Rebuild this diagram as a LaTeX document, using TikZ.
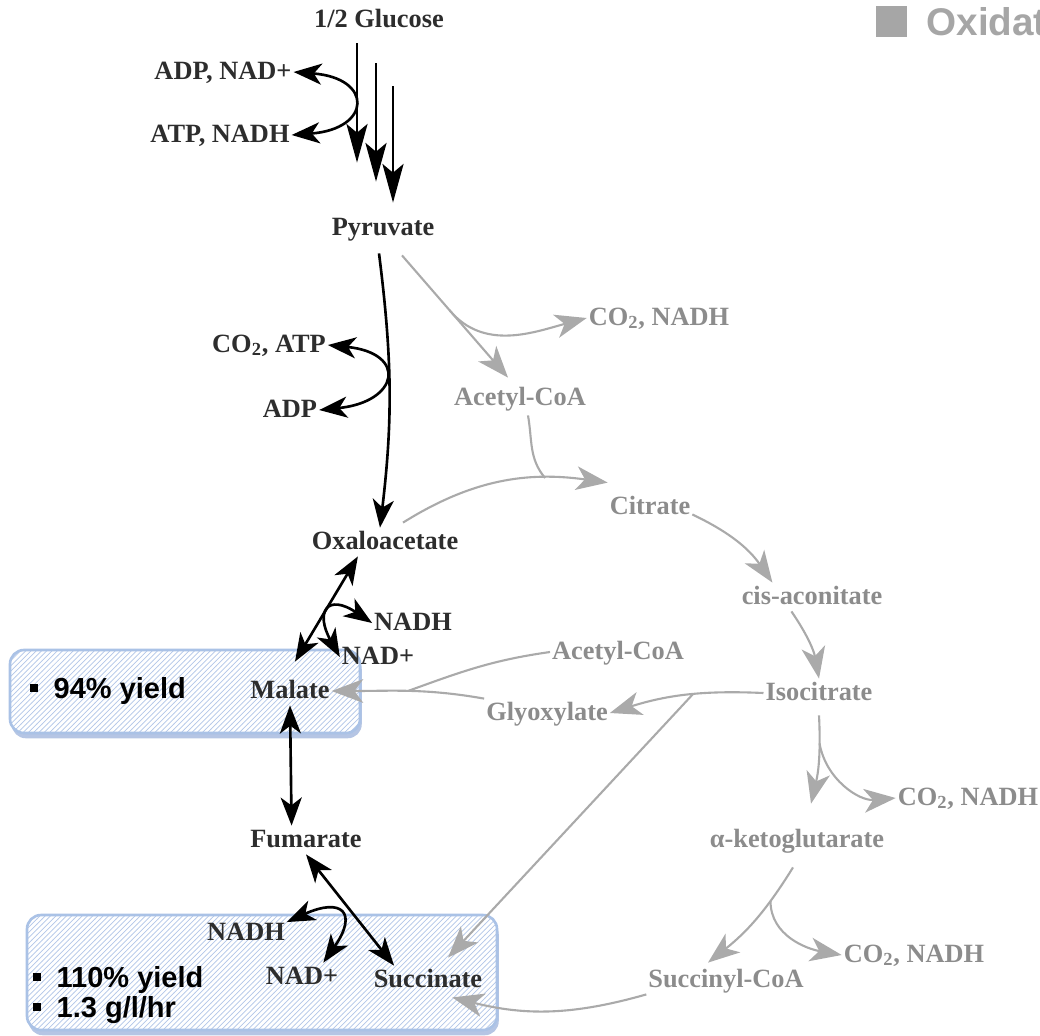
\documentclass[tikz,border=0pt]{standalone}
\usepackage{fontspec}
\setmainfont{Liberation Serif}
\newfontfamily\boxfont{Liberation Sans}
\usepackage{tikz}
\usetikzlibrary{arrows.meta, calc, patterns, shadows}
\definecolor{txtdark}{RGB}{45,45,45}
\definecolor{txtgray}{RGB}{140,140,140}
\definecolor{pathgray}{RGB}{170,170,170}
\definecolor{headgray}{RGB}{166,166,166}
\definecolor{boxline}{RGB}{170,194,230}
\definecolor{boxhatch}{RGB}{178,198,232}
\definecolor{boxshadow}{RGB}{120,150,205}

\begin{document}
\begin{tikzpicture}[x=0.02cm, y=-0.02cm,
    lbl/.style={font=\bfseries\fontsize{15}{17}\selectfont, text=txtdark, text height=11pt, text depth=3pt, inner sep=1pt},
    glbl/.style={lbl, text=txtgray},
    blk/.style={draw=black, line width=1.5pt, >={Stealth[length=16pt, width=12pt, inset=4.5pt]}, ->},
    glyc/.style={>={Stealth[length=22pt, width=12pt, inset=5pt]}},
    gry/.style={draw=pathgray, line width=1.2pt, >={Stealth[length=18pt, width=13.5pt, inset=5pt]}, ->},
    yieldbox/.style={rounded corners=8pt, drop shadow={shadow xshift=1pt, shadow yshift=-3pt, fill=boxshadow, opacity=0.55}, preaction={fill=white}, pattern=north east lines, pattern color=boxhatch, draw=boxline, line width=1.5pt},
    yieldtxt/.style={font=\boxfont\bfseries\fontsize{16.5}{18}\selectfont, anchor=base west, inner sep=0pt}]
        \useasboundingbox (0,0) rectangle (1040,1035);

        \draw[yieldbox] (10,650) rectangle (360,733);
        \draw[yieldbox] (27,915) rectangle (497,1030);
        \node[yieldtxt] (yieldmal) at (30,698) {\rule[3.4pt]{4.3pt}{4.3pt}\hspace{9pt}94\% yield};
        \node[yieldtxt] (yieldsuc) at (33,987) {\rule[3.4pt]{4.3pt}{4.3pt}\hspace{9pt}110\% yield};
        \node[yieldtxt] (ratesuc) at (33,1017) {\rule[3.4pt]{4.3pt}{4.3pt}\hspace{9pt}1.3 g/l/hr};
        \node[anchor=west, inner sep=0pt, text=headgray, font=\boxfont\bfseries\fontsize{22}{24}\selectfont] (heading) at (876,21.5) {\rule[-0.9pt]{17.5pt}{17.5pt}\hspace{11pt}Oxidat};

        \node[lbl] (glucose) at (379,20) {1/2 Glucose};
        \node[lbl] (adpnad) at (223,72) {ADP, NAD+};
        \node[lbl] (atpnadh) at (220,135) {ATP, NADH};
        \node[lbl] (pyruvate) at (383,228) {Pyruvate};
        \node[lbl] (co2atp) at (269,345) {CO\textsubscript{2}, ATP};
        \node[lbl] (adp) at (290,410) {ADP};
        \node[glbl] (co2a) at (659,318) {CO\textsubscript{2}, NADH};
        \node[glbl] (acoa) at (520,398) {Acetyl-CoA};
        \node[glbl] (citrate) at (650,507) {Citrate};
        \node[lbl] (oaa) at (385,542) {Oxaloacetate};
        \node[glbl] (cis) at (812,597) {cis-aconitate};
        \node[lbl] (nadh) at (413,623) {NADH};
        \node[lbl] (nadp) at (378,657) {NAD+};
        \node[glbl] (acoab) at (618,652) {Acetyl-CoA};
        \node[lbl] (malate) at (290,691) {Malate};
        \node[glbl] (iso) at (819,693) {Isocitrate};
        \node[glbl] (glyox) at (547,713) {Glyoxylate};
        \node[glbl] (co2b) at (968,798) {CO\textsubscript{2}, NADH};
        \node[lbl] (fumarate) at (306,840) {Fumarate};
        \node[glbl] (akg) at (797,840) {α-ketoglutarate};
        \node[lbl] (nadhb) at (246,933) {NADH};
        \node[glbl] (co2c) at (914,955) {CO\textsubscript{2}, NADH};
        \node[lbl] (nadpb) at (302,977) {NAD+};
        \node[lbl] (succinate) at (428,980) {Succinate};
        \node[glbl] (succoa) at (726,980) {Succinyl-CoA};

        \draw[blk, glyc] ($(glucose.south)+(-22,9)$) -- ($(pyruvate.north)+(-26,-51)$);
        \draw[blk, glyc] ($(glucose.south)+(-3,29)$) -- ($(pyruvate.north)+(-7,-32)$);
        \draw[blk, glyc] ($(glucose.south)+(14,52)$) -- ($(pyruvate.north)+(10,-11)$);
        \draw[blk, <->] (adpnad.east) .. controls +(80,6) and +(80,-6) .. (atpnadh.east);

        \draw[blk] ($(pyruvate.south)+(-4,11)$) to[bend left=7] ($(oaa.north)+(-5,0)$);
        \draw[blk, <->] (co2atp.east) .. controls +(80,8) and +(80,-8) .. (adp.east);

        \draw[gry] ($(pyruvate.south)+(19,13)$) -- coordinate[pos=0.45] (splitco) ($(acoa.north)+(-12,-6)$);
        \draw[gry] (splitco) to[out=-50, in=195] (co2a.west);
        \draw[gry] ($(oaa.north)+(18,-5)$) to[out=32, in=172] coordinate[pos=0.72] (joincit) ($(citrate.north west)+(0,-10)$);
        \draw[gry, -] ($(acoa.south)+(8,3)$) to[out=-80, in=130] (joincit);
        \draw[gry] (citrate.-10) to[bend left=15] (cis.160);
        \draw[gry] (cis.-145) to[bend left=12] (iso.north);
        \draw[gry] (iso.west) to[bend right=10] coordinate[pos=0.45] (splitsuc) (glyox.east);
        \draw[gry] (splitsuc) -- ($(succinate.north)+(20,-8)$);
        \draw[gry] ($(iso.south)+(0,8)$) to[bend left=8] coordinate[pos=0.3] (splitakg) ($(akg.north)+(14,-22)$);
        \draw[gry] (splitakg) to[out=-80, in=185] (co2b.west);
        \draw[gry] ($(akg.south)+(-4,13)$) to[bend left=10] coordinate[pos=0.3] (splitsca) ($(succoa.north)+(-18,-3)$);
        \draw[gry] (splitsca) to[out=-90, in=170] (co2c.west);
        \draw[gry] (succoa.south west) to[bend left=15] ($(succinate.south east)+(-32,3)$);
        \draw[gry] (glyox.north west) to[out=170, in=0] coordinate[pos=0.5] (joinmal) (malate.east);
        \draw[gry, -] (acoab.west) to[out=188, in=20] (joinmal);

        \draw[blk, <->] ($(malate.north)+(5,-15)$) -- (oaa.-152);
        \draw[blk, <->] (nadp.west) .. controls +(-25,-45) and +(-45,-30) .. (nadh.west);
        \draw[blk, <->] (malate.south) -- (fumarate.135);
        \draw[blk, <->] (fumarate.south) -- (succinate.157);
        \draw[blk, <->] (nadhb.15) .. controls +(55,-25) and +(35,-50) .. (nadpb.34);
    \end{tikzpicture}
\end{document}
